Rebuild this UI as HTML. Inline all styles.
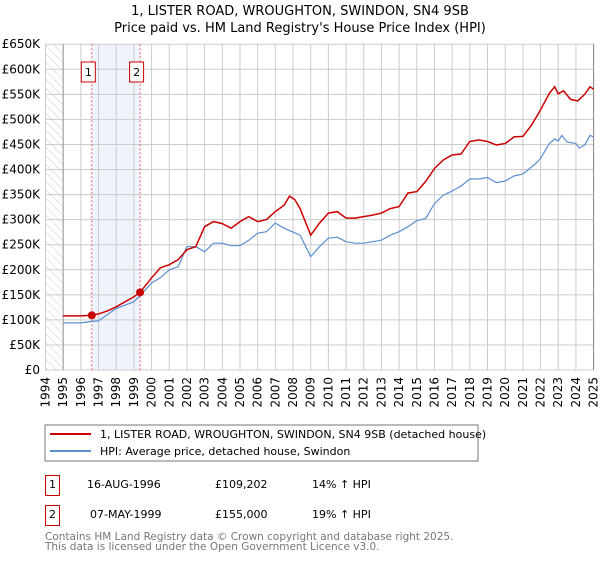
<!DOCTYPE html>
<html><head><meta charset="utf-8"><style>
body{margin:0;background:#fff;width:600px;height:560px;overflow:hidden}
svg{font-family:"DejaVu Sans","Liberation Sans",sans-serif}
</style></head><body>
<svg id="c" width="600" height="560" xmlns="http://www.w3.org/2000/svg">
<defs><pattern id="hatch" width="6" height="6" patternUnits="userSpaceOnUse" patternTransform="rotate(-45)"><line x1="0" y1="0" x2="0" y2="6" stroke="#ccc" stroke-width="1"/></pattern></defs>
<text x="300" y="15" text-anchor="middle" font-size="13">1, LISTER ROAD, WROUGHTON, SWINDON, SN4 9SB</text>
<text x="300" y="32" text-anchor="middle" font-size="13">Price paid vs. HM Land Registry's House Price Index (HPI)</text>
<g id="plot"></g>
<rect x="45" y="425" width="433" height="36" fill="#fff" stroke="#777"/>
<line x1="50" y1="434" x2="91" y2="434" stroke="#cc0000" stroke-width="2"/>
<text x="100" y="438" font-size="11">1, LISTER ROAD, WROUGHTON, SWINDON, SN4 9SB (detached house)</text>
<line x1="50" y1="451" x2="91" y2="451" stroke="#5b8fd0" stroke-width="2"/>
<text x="100" y="455" font-size="11">HPI: Average price, detached house, Swindon</text>
<g font-size="11">
<rect x="45.5" y="475.5" width="14" height="20" fill="#fff" stroke="#cc0000"/>
<text x="52.5" y="488" text-anchor="middle">1</text>
<text x="87" y="488">16-AUG-1996</text><text x="215" y="488">£109,202</text><text x="312" y="488">14% ↑ HPI</text>
<rect x="45.5" y="505.5" width="14" height="20" fill="#fff" stroke="#cc0000"/>
<text x="52.5" y="518" text-anchor="middle">2</text>
<text x="90" y="518">07-MAY-1999</text><text x="215" y="518">£155,000</text><text x="312" y="518">19% ↑ HPI</text>
</g>
<text x="45" y="540" font-size="10.5" fill="#777">Contains HM Land Registry data © Crown copyright and database right 2025.</text>
<text x="45" y="550" font-size="10.5" fill="#777">This data is licensed under the Open Government Licence v3.0.</text>
</svg>
<script>
const yTicks=[0,50,100,150,200,250,300,350,400,450,500,550,600,650];
const years=[1994,1995,1996,1997,1998,1999,2000,2001,2002,2003,2004,2005,2006,2007,2008,2009,2010,2011,2012,2013,2014,2015,2016,2017,2018,2019,2020,2021,2022,2023,2024,2025];
const hpiT=[1995,1996,1996.6,1997,1998,1999,1999.5,2000,2000.5,2001,2001.5,2002,2002.5,2003,2003.5,2004,2004.5,2005,2005.5,2006,2006.5,2007,2007.5,2008.4,2009,2009.5,2010,2010.5,2011,2011.5,2012,2012.5,2013,2013.5,2014,2014.5,2015,2015.5,2016,2016.5,2017,2017.5,2018,2018.5,2019,2019.5,2020,2020.5,2021,2021.7,2022,2022.5,2022.8,2023,2023.2,2023.5,2024,2024.2,2024.5,2024.8,2025];
const hpiV=[94,94,97,98,123,136,154,174,184,200,206,246,246,236,253,253,248,248,259,273,276,293,283,269,226,246,263,265,256,253,253,256,259,269,276,286,298,302,332,349,357,367,381,381,384,374,377,387,391,411,422,452,461,457,468,455,452,443,449,468,465];
const propT=[1995,1996,1996.62,1997,1997.5,1998,1999,1999.35,2000,2000.5,2001,2001.5,2002,2002.5,2003,2003.5,2004,2004.5,2005,2005.5,2006,2006.5,2007,2007.5,2007.8,2008.1,2008.4,2009,2009.5,2010,2010.5,2011,2011.5,2012,2012.5,2013,2013.5,2014,2014.5,2015,2015.5,2016,2016.5,2017,2017.5,2018,2018.5,2019,2019.5,2020,2020.5,2021,2021.5,2022,2022.5,2022.8,2023,2023.3,2023.7,2024.1,2024.5,2024.8,2025];
const propV=[108,108,109.2,112,118,126,146,155,184,204,210,220,240,246,286,296,292,283,296,306,296,300,316,329,347,340,322,269,293,313,316,303,303,306,309,313,322,326,353,356,376,402,419,429,431,456,459,456,449,452,465,466,489,519,552,565,551,557,540,537,550,565,560];
const saleT=[1996.62,1999.35];
const saleV=[109.202,155];
const x=t=>45.5+(t-1994)*17.68, y=v=>370-v*0.5012;
const NS='http://www.w3.org/2000/svg', g=document.getElementById('plot');
function mk(tag,at){const e=document.createElementNS(NS,tag);for(const k in at)e.setAttribute(k,at[k]);g.appendChild(e);return e;}
let e=mk('rect',{x:x(saleT[0]),y:y(650),width:x(saleT[1])-x(saleT[0]),height:y(0)-y(650),fill:'#eef3fc'});


e=mk('rect',{x:x(1994),y:y(650),width:x(1995)-x(1994),height:y(0)-y(650),fill:'url(#hatch)'});


yTicks.forEach(v=>{
 let l=mk('line',{x1:x(1994),x2:x(2025),y1:y(v),y2:y(v),stroke:'#ccc'});
 
 
 let t=mk('text',{x:40,y:y(v)+4,'text-anchor':'end','font-size':'12'});
 t.textContent=v===0?'£0':'£'+v+'K';
 
 
});
years.forEach(yr=>{
 let l=mk('line',{x1:x(yr),x2:x(yr),y1:y(650),y2:y(0),stroke:'#ccc'});
 
 
 let t=mk('text',{x:0,y:0,'text-anchor':'end','font-size':'12',transform:`translate(${x(yr)+4},377) rotate(-90)`});
 t.textContent=yr;
 
 
});
e=mk('line',{x1:x(1995),x2:x(1995),y1:y(650),y2:y(0),stroke:'#999'});


e=mk('line',{x1:x(2025),x2:x(2025),y1:y(650),y2:y(0),stroke:'#888'});


saleT.forEach((t,i)=>{
 let l=mk('line',{x1:x(t),x2:x(t),y1:y(650),y2:y(0),stroke:'#e06060','stroke-dasharray':'2,2'});
 
 
 let r=mk('rect',{x:x(t)-10.5,y:62,width:14,height:20,fill:'#fff',stroke:'#cc0000'});
 
 
 let tx=mk('text',{x:x(t)-3.5,y:76,'text-anchor':'middle','font-size':'11'});
 tx.textContent=i+1;
 
 
});
const pts=(T,V)=>T.map((t,i)=>x(t).toFixed(1)+','+y(V[i]).toFixed(1)).join(' ');
e=mk('polyline',{points:pts(hpiT,hpiV),fill:'none',stroke:'#5b8fd0','stroke-width':1.2});


e=mk('polyline',{points:pts(propT,propV),fill:'none',stroke:'#cc0000','stroke-width':1.5});


saleT.forEach((t,i)=>{
 let c=mk('circle',{cx:x(t),cy:y(saleV[i]),r:4,fill:'#cc0000'});
 
 
});
</script>
</body></html>
